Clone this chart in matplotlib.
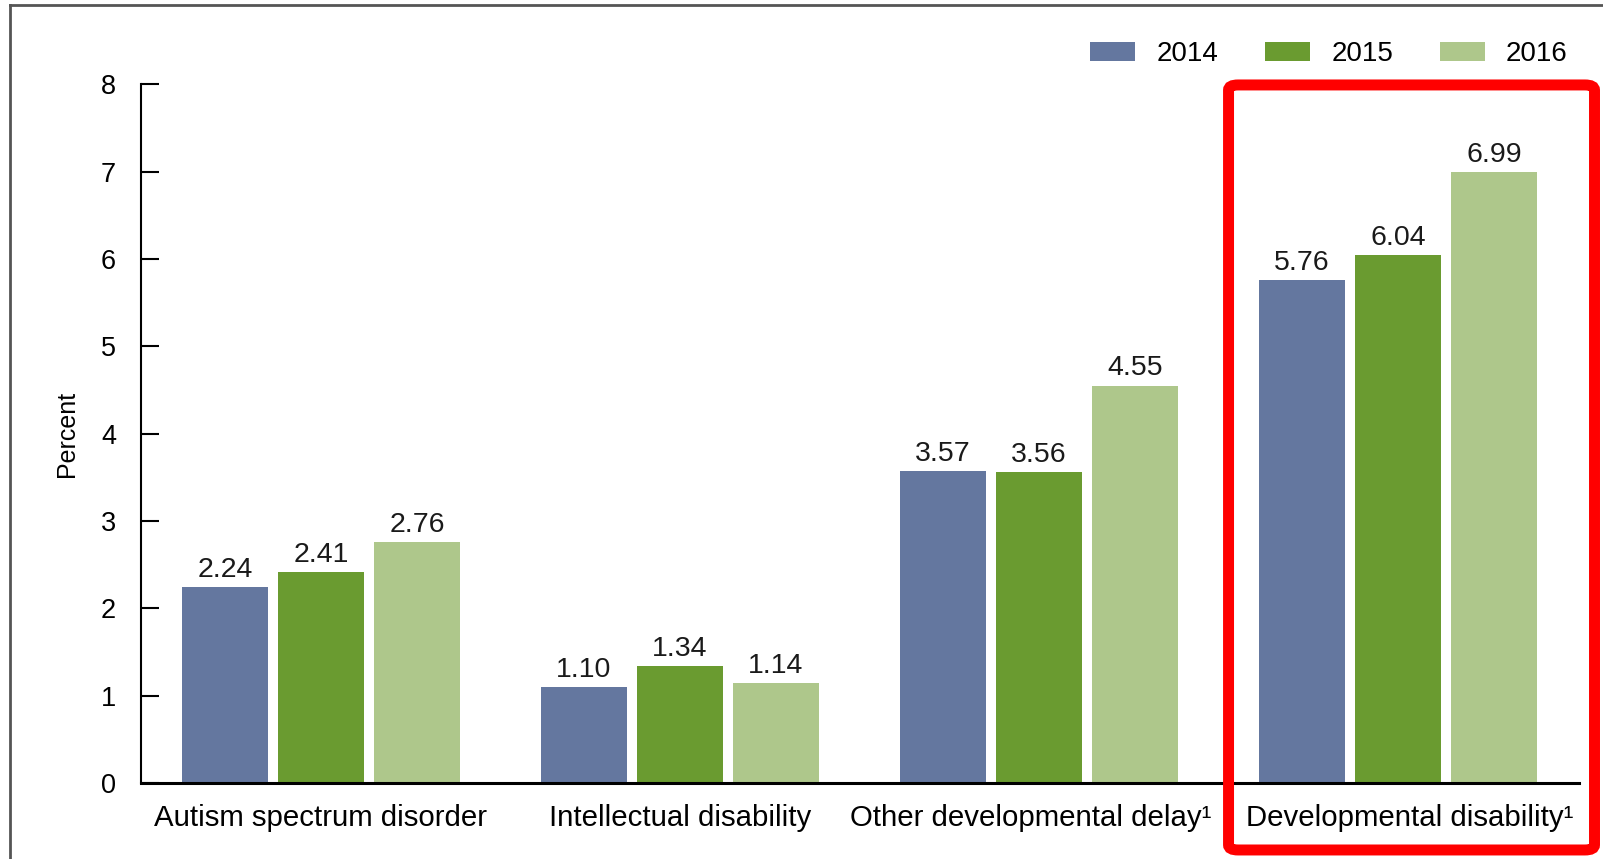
import matplotlib.pyplot as plt
import matplotlib.transforms as mtransforms
import numpy as np
from matplotlib.patches import FancyBboxPatch
from matplotlib.lines import Line2D

plt.rcParams['font.family'] = ['Liberation Sans', 'DejaVu Sans']

categories = ['Autism spectrum disorder', 'Intellectual disability',
              'Other developmental delay\u00b9', 'Developmental disability\u00b9']
years = ['2014', '2015', '2016']
v2014 = [2.24, 1.10, 3.57, 5.76]
v2015 = [2.41, 1.34, 3.56, 6.04]
v2016 = [2.76, 1.14, 4.55, 6.99]
colors = ['#64779f', '#6a9b30', '#aec78b']

fig = plt.figure(figsize=(16.03, 8.59), dpi=100)
ax = fig.add_axes([0.088, 0.0885, 0.897, 0.8135])

x = np.arange(len(categories))
step = 0.2676
width = 0.239
for i, (vals, yr) in enumerate(zip([v2014, v2015, v2016], years)):
    bars = ax.bar(x + (i - 1) * step, vals, width, color=colors[i], label=yr)
    ax.bar_label(bars, labels=[f'{v:.2f}' for v in vals], padding=3, fontsize=20.5, color='#1a1a1a')

ax.set_xlim(-0.501, 3.504)
ax.set_ylim(0, 8)
ax.set_yticks(range(9))
ax.set_xticks(x)
ax.set_xticklabels(categories, fontsize=21.2)
ax.tick_params(axis='x', length=0, pad=15)
ax.tick_params(axis='y', direction='in', length=13, width=1.5, pad=18, labelsize=19.5)
ax.set_ylabel('Percent', fontsize=18, labelpad=16)

# nudge the two right labels apart, like the original
for lab, dx in zip(ax.get_xticklabels(), [0, 0, -8, 12]):
    lab.set_transform(lab.get_transform() + mtransforms.ScaledTranslation(dx / 100, 0, fig.dpi_scale_trans))

for s in ['top', 'right']:
    ax.spines[s].set_visible(False)
ax.spines['left'].set_linewidth(1.5)
ax.spines['bottom'].set_linewidth(2.2)

ax.legend(loc='upper right', bbox_to_anchor=(0.985, 0.965), bbox_transform=fig.transFigure,
          ncol=3, frameon=False, fontsize=20, handlelength=1.62, handleheight=0.72,
          handletextpad=0.75, columnspacing=1.7, borderaxespad=0)

# highlight box around the last group
fig.patches.append(FancyBboxPatch((0.7664, 0.0105), 0.2283, 0.8906,
                                  boxstyle='round,pad=0,rounding_size=0.006',
                                  transform=fig.transFigure, fill=False,
                                  edgecolor='#ff0000', linewidth=7.9))

# thin frame at top and left
fig.lines.append(Line2D([10 / 1603, 1], [1 - 5 / 859, 1 - 5 / 859], transform=fig.transFigure,
                        color='#555555', linewidth=2))
fig.lines.append(Line2D([10 / 1603, 10 / 1603], [0, 1 - 5 / 859], transform=fig.transFigure,
                        color='#555555', linewidth=2))

fig.savefig('out.png', dpi=100)
